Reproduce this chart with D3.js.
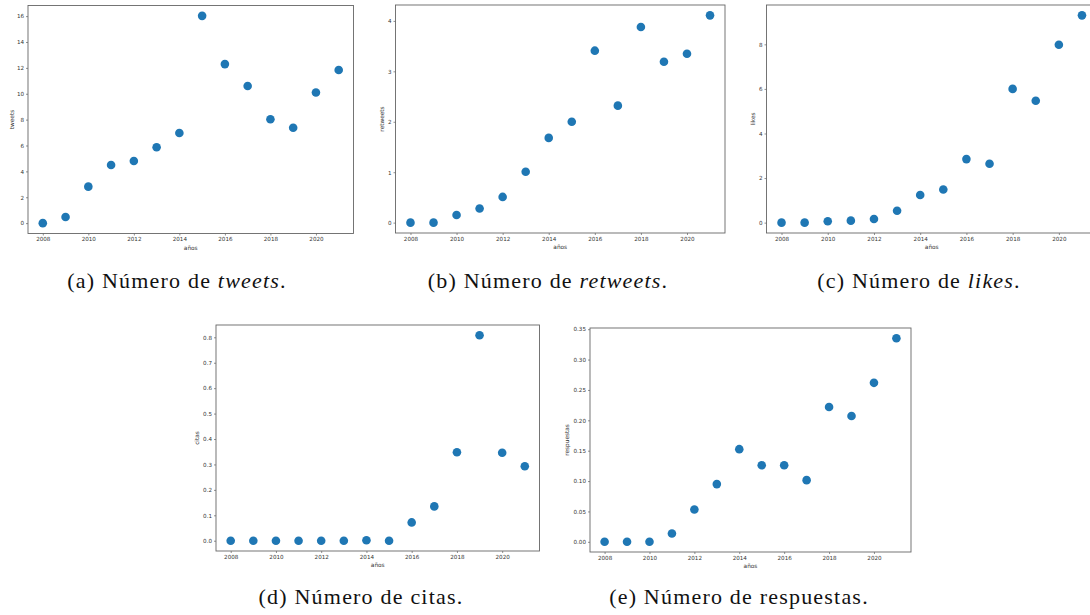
<!DOCTYPE html>
<html>
<head>
<meta charset="utf-8">
<script src="https://cdn.jsdelivr.net/npm/d3@7"></script>
<style>
  body { margin: 0; background: #fff; }
  .tick text { font-family: "DejaVu Sans", sans-serif; font-size: 5.6px; fill: #333; }
  .lab { font-family: "DejaVu Sans", sans-serif; font-size: 5.8px; fill: #333; }
  .cap { font-family: "Liberation Serif", serif; font-size: 22px; letter-spacing: 1.2px; fill: #111; }
</style>
</head>
<body>
<div id="chart"></div>
<script>
var years = [2008, 2009, 2010, 2011, 2012, 2013, 2014, 2015, 2016, 2017, 2018, 2019, 2020, 2021];

var tweets     = [0, 0.47, 2.82, 4.49, 4.8, 5.86, 6.97, 16.02, 12.29, 10.6, 8.03, 7.37, 10.1, 11.84];
var retweets   = [0, 0, 0.15, 0.28, 0.51, 1.01, 1.68, 2.0, 3.41, 2.32, 3.88, 3.19, 3.35, 4.11];
var likes      = [0, 0, 0.06, 0.09, 0.16, 0.53, 1.24, 1.49, 2.85, 2.64, 6.0, 5.47, 7.98, 9.3];
var citas      = [0, 0, 0, 0, 0, 0, 0.002, 0, 0.072, 0.135, 0.348, 0.808, 0.346, 0.293];
var respuestas = [0, 0, 0, 0.0137, 0.0532, 0.095, 0.1525, 0.126, 0.126, 0.1015, 0.222, 0.207, 0.2617, 0.3352];

var xTicks = [2008, 2010, 2012, 2014, 2016, 2018, 2020];
var tweetsTicks = [0, 2, 4, 6, 8, 10, 12, 14, 16];
var retweetsTicks = [0, 1, 2, 3, 4];
var likesTicks = [0, 2, 4, 6, 8];
var citasTicks = [0, 0.1, 0.2, 0.3, 0.4, 0.5, 0.6, 0.7, 0.8];
var respuestasTicks = [0, 0.05, 0.10, 0.15, 0.20, 0.25, 0.30, 0.35];

var svg = d3.select("#chart").append("svg")
    .attr("width", 1090)
    .attr("height", 615);

// one panel: frame box, axes, dots, labels
function panel(box, values, yTicks, yFmt, ylabel) {
    var xPad = (d3.max(years) - d3.min(years)) * 0.05;
    var yMin = d3.min(values), yMax = d3.max(values);
    var yPad = (yMax - yMin) * 0.05;

    var x = d3.scaleLinear()
        .domain([d3.min(years) - xPad, d3.max(years) + xPad])
        .range([box.left, box.right]);
    var y = d3.scaleLinear()
        .domain([yMin - yPad, yMax + yPad])
        .range([box.bottom, box.top]);

    var g = svg.append("g");

    g.append("g")
        .attr("transform", "translate(0," + box.bottom + ")")
        .call(d3.axisBottom(x).tickValues(xTicks).tickFormat(d3.format("d")).tickSize(2).tickPadding(2))
        .call(function(a) { a.select(".domain").remove(); });

    g.append("g")
        .attr("transform", "translate(" + box.left + ",0)")
        .call(d3.axisLeft(y).tickValues(yTicks).tickFormat(d3.format(yFmt)).tickSize(2).tickPadding(2))
        .call(function(a) { a.select(".domain").remove(); });

    g.selectAll(".tick line").attr("stroke", "#444").attr("stroke-width", 0.6);

    g.append("rect")
        .attr("x", box.left)
        .attr("y", box.top)
        .attr("width", box.right - box.left)
        .attr("height", box.bottom - box.top)
        .attr("fill", "none")
        .attr("stroke", "#666")
        .attr("stroke-width", 0.9);

    g.append("g").selectAll("circle")
        .data(years)
        .enter().append("circle")
        .attr("cx", function(d) { return x(d); })
        .attr("cy", function(d, i) { return y(values[i]); })
        .attr("r", 4.3)
        .attr("fill", "#1f77b4");

    g.append("text")
        .attr("class", "lab")
        .attr("x", (box.left + box.right) / 2)
        .attr("y", box.bottom + 16)
        .attr("text-anchor", "middle")
        .text("años");

    g.append("text")
        .attr("class", "lab")
        .attr("transform", "translate(" + box.ylab + "," + (box.top + box.bottom) / 2 + ") rotate(-90)")
        .attr("text-anchor", "middle")
        .text(ylabel);
}

panel({left: 28, top: 5.5, right: 353.5, bottom: 233.5, ylab: 14}, tweets, tweetsTicks, "d", "tweets");
panel({left: 395.5, top: 5, right: 725, bottom: 233, ylab: 383.5}, retweets, retweetsTicks, "d", "retweets");
panel({left: 766.5, top: 5, right: 1097, bottom: 233, ylab: 754.5}, likes, likesTicks, "d", "likes");
panel({left: 216, top: 325, right: 539.5, bottom: 551, ylab: 198.5}, citas, citasTicks, ".1f", "citas");
panel({left: 590, top: 328, right: 911, bottom: 552, ylab: 569}, respuestas, respuestasTicks, ".2f", "respuestas");

// captions
function caption(cx, cy, pre, word, post, italic) {
    var t = svg.append("text")
        .attr("class", "cap")
        .attr("x", cx)
        .attr("y", cy)
        .attr("text-anchor", "middle");
    t.append("tspan").text(pre);
    t.append("tspan").style("font-style", italic ? "italic" : "normal").text(word);
    t.append("tspan").text(post);
}

caption(177, 288, "(a) Número de ", "tweets", ".", true);
caption(548, 288, "(b) Número de ", "retweets", ".", true);
caption(919, 288, "(c) Número de ", "likes", ".", true);
caption(361, 604, "(d) Número de ", "citas", ".", false);
caption(739, 604, "(e) Número de ", "respuestas", ".", false);
</script>
</body>
</html>
